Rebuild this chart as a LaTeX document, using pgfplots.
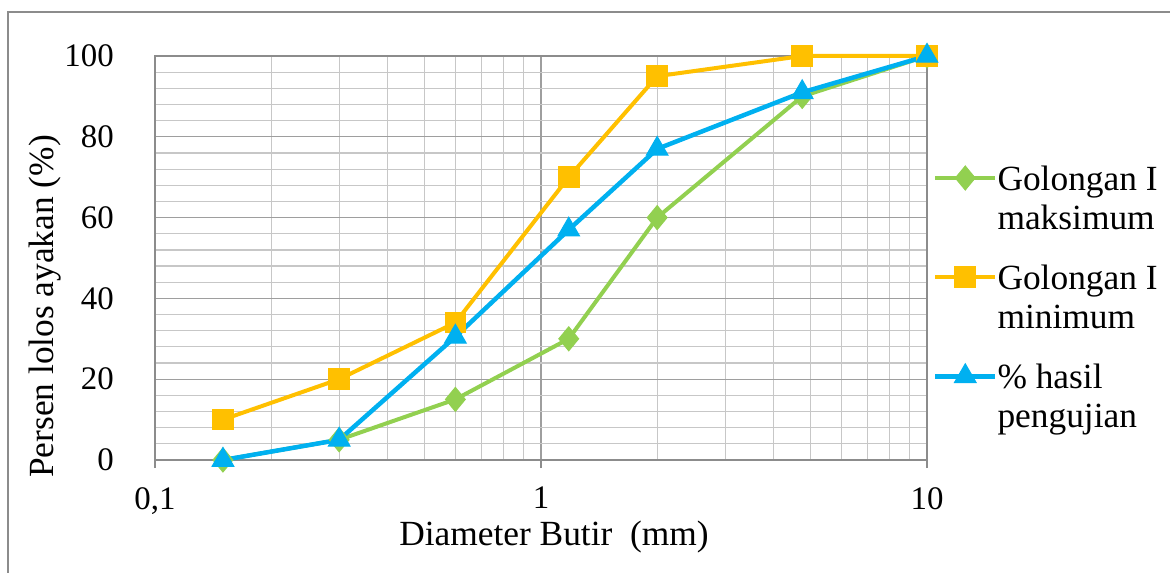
\documentclass[border=0pt]{standalone}
\usepackage{fontspec}
\setmainfont{Liberation Serif}
\usepackage{pgfplots}
\pgfplotsset{compat=1.18}
\definecolor{cgreen}{HTML}{92D050}
\definecolor{corange}{HTML}{FFC000}
\definecolor{cblue}{HTML}{00B0F0}
\begin{document}
\begin{tikzpicture}
\useasboundingbox (0,0) rectangle (1170bp,573bp);
\draw[color=black!45, line width=2.5bp] (8bp,-5bp) -- (8bp,561bp) -- (1175bp,561bp);
\begin{axis}[
  at={(155bp,113bp)}, anchor=south west,
  scale only axis, width=772bp, height=404bp,
  xmode=log, xmin=0.1, xmax=10, ymin=0, ymax=100,
  xtick={0.1,1,10}, xticklabels={{0,1},1,10},
  ytick={0,20,...,100},
  minor y tick num=4,
  xtick pos=lower, ytick pos=left,
  grid=both,
  major grid style={color=black!38, line width=1.3bp},
  minor grid style={color=black!22, line width=1.2bp},
  axis line style={color=black!45, line width=1.5bp},
  tick align=outside,
  major tick length=8bp, minor tick length=0pt,
  xtick style={color=black!45, line width=1.5bp},
  ytick style={draw=none},
  clip=false,
  font=\fontsize{35.5}{39}\selectfont,
  /pgf/number format/assume math mode=true,
  ticklabel style={font=\fontsize{33}{37}\selectfont},
  xticklabel style={anchor=north, inner sep=0pt, yshift=-19bp},
  yticklabel style={anchor=east, inner sep=0pt, xshift=-33bp},
  xlabel={Diameter Butir\ \ (mm)},
  ylabel={Persen lolos ayakan (\%)},
  xlabel style={at={(axis description cs:0.5168,-0.2104)}, anchor=base, inner sep=0pt},
  ylabel style={at={(axis description cs:-0.1321,0.38)}, anchor=base, inner sep=0pt},
  legend style={at={(axis description cs:1.0078,0.7277)}, anchor=north west,
    draw=none, fill=none, inner sep=0pt, outer sep=0pt,
    row sep=34bp, column sep=0bp,
    nodes={inner sep=0pt, outer sep=0pt, align=left, font=\fontsize{35.5}{39}\selectfont},
    cells={anchor=north west}},
  legend image code/.code={
    \draw[mark repeat=2, mark phase=2, yshift=-12bp, #1] plot coordinates {(0bp,0bp) (30bp,0bp) (60bp,0bp)};},
]
\addplot[cgreen, line width=4bp, mark=diamond*, mark size=12bp, mark options={solid, line width=1bp, xscale=1.1}]
  coordinates {(0.15,0) (0.3,5) (0.6,15) (1.18,30) (2,60) (4.75,90) (10,100)};
\addlegendentry{Golongan I\\maksimum}
\addplot[corange, line width=4bp, mark=square*, mark size=10.3bp, mark options={solid, line width=1bp}]
  coordinates {(0.15,10) (0.3,20) (0.6,34) (1.18,70) (2,95) (4.75,100) (10,100)};
\addlegendentry{Golongan I\\minimum}
\addplot[cblue, line width=4.5bp, mark=triangle*, mark size=12.5bp, mark options={solid, line width=1bp}]
  coordinates {(0.15,0) (0.3,5) (0.6,30.5) (1.18,57) (2,77) (4.75,91) (10,100)};
\addlegendentry{\% hasil\\pengujian}
\end{axis}
\end{tikzpicture}
\end{document}
